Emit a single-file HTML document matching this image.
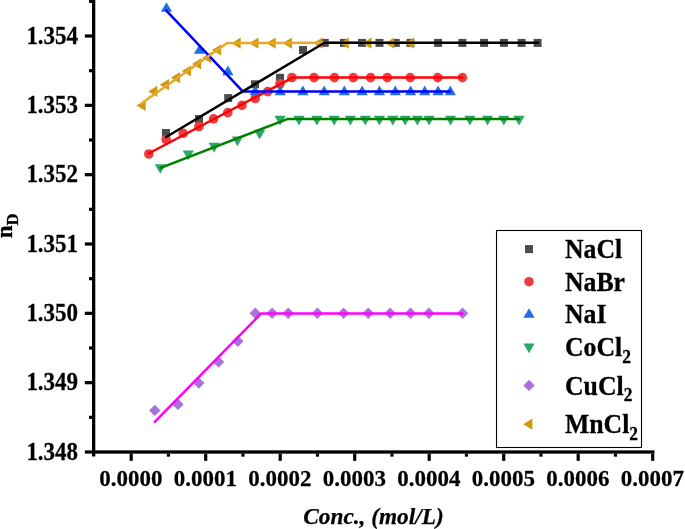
<!DOCTYPE html>
<html><head><meta charset="utf-8"><style>
html,body{margin:0;padding:0;background:#fff;width:685px;height:529px;overflow:hidden;}
svg{display:block;will-change:transform;}
</style></head><body>
<svg width="685" height="529" viewBox="0 0 685 529">
<rect width="685" height="529" fill="#fff"/>
<rect x="162.00" y="129.00" width="8.0" height="8.0" fill="#4b4b4b"/>
<rect x="195.00" y="115.00" width="8.0" height="8.0" fill="#4b4b4b"/>
<rect x="224.20" y="94.10" width="8.0" height="8.0" fill="#4b4b4b"/>
<rect x="251.00" y="80.30" width="8.0" height="8.0" fill="#4b4b4b"/>
<rect x="276.00" y="73.80" width="8.0" height="8.0" fill="#4b4b4b"/>
<rect x="299.00" y="46.00" width="8.0" height="8.0" fill="#4b4b4b"/>
<rect x="320.70" y="38.90" width="8.0" height="8.0" fill="#4b4b4b"/>
<rect x="340.00" y="38.90" width="8.0" height="8.0" fill="#4b4b4b"/>
<rect x="358.00" y="38.90" width="8.0" height="8.0" fill="#4b4b4b"/>
<rect x="375.50" y="38.90" width="8.0" height="8.0" fill="#4b4b4b"/>
<rect x="391.80" y="38.90" width="8.0" height="8.0" fill="#4b4b4b"/>
<rect x="406.50" y="38.90" width="8.0" height="8.0" fill="#4b4b4b"/>
<rect x="434.10" y="38.90" width="8.0" height="8.0" fill="#4b4b4b"/>
<rect x="458.40" y="38.90" width="8.0" height="8.0" fill="#4b4b4b"/>
<rect x="480.10" y="38.90" width="8.0" height="8.0" fill="#4b4b4b"/>
<rect x="499.90" y="38.90" width="8.0" height="8.0" fill="#4b4b4b"/>
<rect x="517.60" y="38.90" width="8.0" height="8.0" fill="#4b4b4b"/>
<rect x="533.60" y="38.90" width="8.0" height="8.0" fill="#4b4b4b"/>
<circle cx="148.80" cy="154.00" r="4.8" fill="#ee3d42"/>
<circle cx="166.20" cy="139.70" r="4.8" fill="#ee3d42"/>
<circle cx="183.20" cy="133.30" r="4.8" fill="#ee3d42"/>
<circle cx="198.90" cy="126.50" r="4.8" fill="#ee3d42"/>
<circle cx="213.60" cy="118.90" r="4.8" fill="#ee3d42"/>
<circle cx="227.80" cy="112.60" r="4.8" fill="#ee3d42"/>
<circle cx="241.90" cy="105.40" r="4.8" fill="#ee3d42"/>
<circle cx="255.30" cy="98.50" r="4.8" fill="#ee3d42"/>
<circle cx="267.70" cy="91.60" r="4.8" fill="#ee3d42"/>
<circle cx="280.00" cy="83.75" r="4.8" fill="#ee3d42"/>
<circle cx="291.90" cy="77.50" r="4.8" fill="#ee3d42"/>
<circle cx="314.00" cy="77.60" r="4.8" fill="#ee3d42"/>
<circle cx="334.40" cy="77.60" r="4.8" fill="#ee3d42"/>
<circle cx="353.30" cy="77.60" r="4.8" fill="#ee3d42"/>
<circle cx="370.60" cy="77.60" r="4.8" fill="#ee3d42"/>
<circle cx="387.30" cy="77.60" r="4.8" fill="#ee3d42"/>
<circle cx="410.20" cy="77.60" r="4.8" fill="#ee3d42"/>
<circle cx="437.80" cy="77.60" r="4.8" fill="#ee3d42"/>
<circle cx="462.40" cy="77.60" r="4.8" fill="#ee3d42"/>
<path d="M166.50 2.15L172.10 11.85L160.90 11.85Z" fill="#1f6fe0"/>
<path d="M199.50 44.15L205.10 53.85L193.90 53.85Z" fill="#1f6fe0"/>
<path d="M227.90 65.45L233.50 75.15L222.30 75.15Z" fill="#1f6fe0"/>
<path d="M255.30 85.45L260.90 95.15L249.70 95.15Z" fill="#1f6fe0"/>
<path d="M280.20 85.55L285.80 95.25L274.60 95.25Z" fill="#1f6fe0"/>
<path d="M302.90 85.55L308.50 95.25L297.30 95.25Z" fill="#1f6fe0"/>
<path d="M324.20 85.55L329.80 95.25L318.60 95.25Z" fill="#1f6fe0"/>
<path d="M344.30 85.55L349.90 95.25L338.70 95.25Z" fill="#1f6fe0"/>
<path d="M362.10 85.55L367.70 95.25L356.50 95.25Z" fill="#1f6fe0"/>
<path d="M379.40 85.55L385.00 95.25L373.80 95.25Z" fill="#1f6fe0"/>
<path d="M395.30 85.55L400.90 95.25L389.70 95.25Z" fill="#1f6fe0"/>
<path d="M410.60 85.55L416.20 95.25L405.00 95.25Z" fill="#1f6fe0"/>
<path d="M424.70 85.55L430.30 95.25L419.10 95.25Z" fill="#1f6fe0"/>
<path d="M438.10 85.55L443.70 95.25L432.50 95.25Z" fill="#1f6fe0"/>
<path d="M450.30 85.55L455.90 95.25L444.70 95.25Z" fill="#1f6fe0"/>
<path d="M154.70 164.15L165.90 164.15L160.30 173.85Z" fill="#2aa865"/>
<path d="M182.70 150.55L193.90 150.55L188.30 160.25Z" fill="#2aa865"/>
<path d="M208.60 142.75L219.80 142.75L214.20 152.45Z" fill="#2aa865"/>
<path d="M231.80 136.55L243.00 136.55L237.40 146.25Z" fill="#2aa865"/>
<path d="M254.00 129.75L265.20 129.75L259.60 139.45Z" fill="#2aa865"/>
<path d="M274.50 115.85L285.70 115.85L280.10 125.55Z" fill="#2aa865"/>
<path d="M293.40 115.85L304.60 115.85L299.00 125.55Z" fill="#2aa865"/>
<path d="M311.30 115.85L322.50 115.85L316.90 125.55Z" fill="#2aa865"/>
<path d="M328.60 115.85L339.80 115.85L334.20 125.55Z" fill="#2aa865"/>
<path d="M344.80 115.85L356.00 115.85L350.40 125.55Z" fill="#2aa865"/>
<path d="M359.70 115.85L370.90 115.85L365.30 125.55Z" fill="#2aa865"/>
<path d="M373.80 115.85L385.00 115.85L379.40 125.55Z" fill="#2aa865"/>
<path d="M387.20 115.85L398.40 115.85L392.80 125.55Z" fill="#2aa865"/>
<path d="M399.60 115.85L410.80 115.85L405.20 125.55Z" fill="#2aa865"/>
<path d="M411.80 115.85L423.00 115.85L417.40 125.55Z" fill="#2aa865"/>
<path d="M423.50 115.85L434.70 115.85L429.10 125.55Z" fill="#2aa865"/>
<path d="M444.90 115.85L456.10 115.85L450.50 125.55Z" fill="#2aa865"/>
<path d="M464.30 115.85L475.50 115.85L469.90 125.55Z" fill="#2aa865"/>
<path d="M481.90 115.85L493.10 115.85L487.50 125.55Z" fill="#2aa865"/>
<path d="M498.20 115.85L509.40 115.85L503.80 125.55Z" fill="#2aa865"/>
<path d="M513.40 115.85L524.60 115.85L519.00 125.55Z" fill="#2aa865"/>
<path d="M154.80 404.70L160.50 410.40L154.80 416.10L149.10 410.40Z" fill="#a872dc"/>
<path d="M178.00 398.70L183.70 404.40L178.00 410.10L172.30 404.40Z" fill="#a872dc"/>
<path d="M198.80 377.40L204.50 383.10L198.80 388.80L193.10 383.10Z" fill="#a872dc"/>
<path d="M218.60 356.20L224.30 361.90L218.60 367.60L212.90 361.90Z" fill="#a872dc"/>
<path d="M237.80 335.60L243.50 341.30L237.80 347.00L232.10 341.30Z" fill="#a872dc"/>
<path d="M255.30 307.60L261.00 313.30L255.30 319.00L249.60 313.30Z" fill="#a872dc"/>
<path d="M272.10 307.60L277.80 313.30L272.10 319.00L266.40 313.30Z" fill="#a872dc"/>
<path d="M288.20 307.60L293.90 313.30L288.20 319.00L282.50 313.30Z" fill="#a872dc"/>
<path d="M317.40 307.60L323.10 313.30L317.40 319.00L311.70 313.30Z" fill="#a872dc"/>
<path d="M343.60 307.60L349.30 313.30L343.60 319.00L337.90 313.30Z" fill="#a872dc"/>
<path d="M368.20 307.60L373.90 313.30L368.20 319.00L362.50 313.30Z" fill="#a872dc"/>
<path d="M390.10 307.60L395.80 313.30L390.10 319.00L384.40 313.30Z" fill="#a872dc"/>
<path d="M410.50 307.60L416.20 313.30L410.50 319.00L404.80 313.30Z" fill="#a872dc"/>
<path d="M428.90 307.60L434.60 313.30L428.90 319.00L423.20 313.30Z" fill="#a872dc"/>
<path d="M462.50 307.60L468.20 313.30L462.50 319.00L456.80 313.30Z" fill="#a872dc"/>
<path d="M136.50 105.50L145.70 99.90L145.70 111.10Z" fill="#cf9a10"/>
<path d="M148.20 91.40L157.40 85.80L157.40 97.00Z" fill="#cf9a10"/>
<path d="M159.80 84.70L169.00 79.10L169.00 90.30Z" fill="#cf9a10"/>
<path d="M170.90 77.70L180.10 72.10L180.10 83.30Z" fill="#cf9a10"/>
<path d="M181.80 71.00L191.00 65.40L191.00 76.60Z" fill="#cf9a10"/>
<path d="M192.00 63.90L201.20 58.30L201.20 69.50Z" fill="#cf9a10"/>
<path d="M202.20 57.70L211.40 52.10L211.40 63.30Z" fill="#cf9a10"/>
<path d="M211.90 50.00L221.10 44.40L221.10 55.60Z" fill="#cf9a10"/>
<path d="M231.50 43.20L240.70 37.60L240.70 48.80Z" fill="#cf9a10"/>
<path d="M249.30 43.20L258.50 37.60L258.50 48.80Z" fill="#cf9a10"/>
<path d="M266.50 43.20L275.70 37.60L275.70 48.80Z" fill="#cf9a10"/>
<path d="M282.70 43.20L291.90 37.60L291.90 48.80Z" fill="#cf9a10"/>
<path d="M313.30 43.20L322.50 37.60L322.50 48.80Z" fill="#cf9a10"/>
<path d="M339.60 43.20L348.80 37.60L348.80 48.80Z" fill="#cf9a10"/>
<path d="M362.30 43.20L371.50 37.60L371.50 48.80Z" fill="#cf9a10"/>
<path d="M385.20 43.20L394.40 37.60L394.40 48.80Z" fill="#cf9a10"/>
<path d="M404.80 43.20L414.00 37.60L414.00 48.80Z" fill="#cf9a10"/>
<path d="M148.60 153.50L292.70 77.60L462.40 77.60" fill="none" stroke="#ff0000" stroke-width="2.5" stroke-linejoin="round" stroke-linecap="round"/>
<path d="M166.10 10.40L243.00 91.60L450.00 91.60" fill="none" stroke="#0000ff" stroke-width="2.5" stroke-linejoin="round" stroke-linecap="round"/>
<path d="M160.60 167.80L287.20 119.10L519.00 119.10" fill="none" stroke="#008000" stroke-width="2.5" stroke-linejoin="round" stroke-linecap="round"/>
<path d="M154.80 421.80L261.30 313.40L462.50 313.40" fill="none" stroke="#ff00ff" stroke-width="2.5" stroke-linejoin="round" stroke-linecap="round"/>
<path d="M142.00 103.00L227.30 43.00L410.20 42.50" fill="none" stroke="#e6a82a" stroke-width="2.5" stroke-linejoin="round" stroke-linecap="round"/>
<path d="M166.20 137.00L324.50 42.80L538.00 42.80" fill="none" stroke="#000000" stroke-width="2.5" stroke-linejoin="round" stroke-linecap="round"/>
<rect x="92.0" y="0" width="3.3" height="456.5" fill="#000"/>
<rect x="92.0" y="450.35" width="562.5" height="3.3" fill="#000"/>
<rect x="84.8" y="450.40" width="7.2" height="3.2" fill="#000"/>
<rect x="89.0" y="415.73" width="3.0" height="3.2" fill="#000"/>
<rect x="84.8" y="381.07" width="7.2" height="3.2" fill="#000"/>
<rect x="89.0" y="346.40" width="3.0" height="3.2" fill="#000"/>
<rect x="84.8" y="311.74" width="7.2" height="3.2" fill="#000"/>
<rect x="89.0" y="277.07" width="3.0" height="3.2" fill="#000"/>
<rect x="84.8" y="242.41" width="7.2" height="3.2" fill="#000"/>
<rect x="89.0" y="207.75" width="3.0" height="3.2" fill="#000"/>
<rect x="84.8" y="173.08" width="7.2" height="3.2" fill="#000"/>
<rect x="89.0" y="138.41" width="3.0" height="3.2" fill="#000"/>
<rect x="84.8" y="103.75" width="7.2" height="3.2" fill="#000"/>
<rect x="89.0" y="69.09" width="3.0" height="3.2" fill="#000"/>
<rect x="84.8" y="34.42" width="7.2" height="3.2" fill="#000"/>
<rect x="89.0" y="-0.24" width="3.0" height="3.2" fill="#000"/>
<rect x="129.60" y="453.65" width="3.2" height="7.2" fill="#000"/>
<rect x="166.85" y="453.65" width="3.2" height="3.0" fill="#000"/>
<rect x="204.10" y="453.65" width="3.2" height="7.2" fill="#000"/>
<rect x="241.35" y="453.65" width="3.2" height="3.0" fill="#000"/>
<rect x="278.60" y="453.65" width="3.2" height="7.2" fill="#000"/>
<rect x="315.85" y="453.65" width="3.2" height="3.0" fill="#000"/>
<rect x="353.10" y="453.65" width="3.2" height="7.2" fill="#000"/>
<rect x="390.35" y="453.65" width="3.2" height="3.0" fill="#000"/>
<rect x="427.60" y="453.65" width="3.2" height="7.2" fill="#000"/>
<rect x="464.85" y="453.65" width="3.2" height="3.0" fill="#000"/>
<rect x="502.10" y="453.65" width="3.2" height="7.2" fill="#000"/>
<rect x="539.35" y="453.65" width="3.2" height="3.0" fill="#000"/>
<rect x="576.60" y="453.65" width="3.2" height="7.2" fill="#000"/>
<rect x="613.85" y="453.65" width="3.2" height="3.0" fill="#000"/>
<rect x="651.10" y="453.65" width="3.2" height="7.2" fill="#000"/>
<text transform="translate(78.1 459.80) scale(1 1.06)" font-family='"Liberation Serif", serif' font-weight="bold" font-size="23" text-anchor="end" stroke="#000" stroke-width="0.25">1.348</text>
<text transform="translate(78.1 390.47) scale(1 1.06)" font-family='"Liberation Serif", serif' font-weight="bold" font-size="23" text-anchor="end" stroke="#000" stroke-width="0.25">1.349</text>
<text transform="translate(78.1 321.14) scale(1 1.06)" font-family='"Liberation Serif", serif' font-weight="bold" font-size="23" text-anchor="end" stroke="#000" stroke-width="0.25">1.350</text>
<text transform="translate(78.1 251.81) scale(1 1.06)" font-family='"Liberation Serif", serif' font-weight="bold" font-size="23" text-anchor="end" stroke="#000" stroke-width="0.25">1.351</text>
<text transform="translate(78.1 182.48) scale(1 1.06)" font-family='"Liberation Serif", serif' font-weight="bold" font-size="23" text-anchor="end" stroke="#000" stroke-width="0.25">1.352</text>
<text transform="translate(78.1 113.15) scale(1 1.06)" font-family='"Liberation Serif", serif' font-weight="bold" font-size="23" text-anchor="end" stroke="#000" stroke-width="0.25">1.353</text>
<text transform="translate(78.1 43.82) scale(1 1.06)" font-family='"Liberation Serif", serif' font-weight="bold" font-size="23" text-anchor="end" stroke="#000" stroke-width="0.25">1.354</text>
<text transform="translate(130.90 485.6) scale(0.966 1)" font-family='"Liberation Serif", serif' font-weight="bold" font-size="23.8" text-anchor="middle" stroke="#000" stroke-width="0.25">0.0000</text>
<text transform="translate(205.40 485.6) scale(0.966 1)" font-family='"Liberation Serif", serif' font-weight="bold" font-size="23.8" text-anchor="middle" stroke="#000" stroke-width="0.25">0.0001</text>
<text transform="translate(279.90 485.6) scale(0.966 1)" font-family='"Liberation Serif", serif' font-weight="bold" font-size="23.8" text-anchor="middle" stroke="#000" stroke-width="0.25">0.0002</text>
<text transform="translate(354.40 485.6) scale(0.966 1)" font-family='"Liberation Serif", serif' font-weight="bold" font-size="23.8" text-anchor="middle" stroke="#000" stroke-width="0.25">0.0003</text>
<text transform="translate(428.90 485.6) scale(0.966 1)" font-family='"Liberation Serif", serif' font-weight="bold" font-size="23.8" text-anchor="middle" stroke="#000" stroke-width="0.25">0.0004</text>
<text transform="translate(503.40 485.6) scale(0.966 1)" font-family='"Liberation Serif", serif' font-weight="bold" font-size="23.8" text-anchor="middle" stroke="#000" stroke-width="0.25">0.0005</text>
<text transform="translate(577.90 485.6) scale(0.966 1)" font-family='"Liberation Serif", serif' font-weight="bold" font-size="23.8" text-anchor="middle" stroke="#000" stroke-width="0.25">0.0006</text>
<text transform="translate(652.40 485.6) scale(0.966 1)" font-family='"Liberation Serif", serif' font-weight="bold" font-size="23.8" text-anchor="middle" stroke="#000" stroke-width="0.25">0.0007</text>
<text x="373.5" y="524.4" font-family='"Liberation Serif", serif' font-weight="bold" font-style="italic" font-size="23.3" text-anchor="middle" stroke="#000" stroke-width="0.25">Conc., (mol/L)</text>
<g transform="translate(12.3,238.1) rotate(-90)"><text x="0" y="0" font-family='"Liberation Serif", serif' font-weight="bold" font-size="22.5" stroke="#000" stroke-width="0.3">n<tspan font-size="16.6" dy="5.8">D</tspan></text></g>
<rect x="496.5" y="230.5" width="145" height="217" fill="none" stroke="#000" stroke-width="1.1"/>
<rect x="525.00" y="245.10" width="8.0" height="8.0" fill="#4b4b4b"/>
<text transform="translate(565 257.7) scale(0.99 1.045)" font-family='"Liberation Serif", serif' font-weight="bold" font-size="26" stroke="#000" stroke-width="0.3">NaCl</text>
<circle cx="529.00" cy="281.70" r="4.8" fill="#ee3d42"/>
<text transform="translate(565 290.5) scale(0.99 1.045)" font-family='"Liberation Serif", serif' font-weight="bold" font-size="26" stroke="#000" stroke-width="0.3">NaBr</text>
<path d="M529.00 308.15L534.60 317.85L523.40 317.85Z" fill="#1f6fe0"/>
<text transform="translate(565 323.0) scale(0.99 1.045)" font-family='"Liberation Serif", serif' font-weight="bold" font-size="26" stroke="#000" stroke-width="0.3">NaI</text>
<path d="M523.40 343.45L534.60 343.45L529.00 353.15Z" fill="#2aa865"/>
<text transform="translate(565 355.8) scale(0.99 1.045)" font-family='"Liberation Serif", serif' font-weight="bold" font-size="26" stroke="#000" stroke-width="0.3">CoCl<tspan font-size="17.6" dy="6.6">2</tspan></text>
<path d="M529.00 379.70L534.70 385.40L529.00 391.10L523.30 385.40Z" fill="#a872dc"/>
<text transform="translate(565 394.6) scale(0.99 1.045)" font-family='"Liberation Serif", serif' font-weight="bold" font-size="26" stroke="#000" stroke-width="0.3">CuCl<tspan font-size="17.6" dy="6.6">2</tspan></text>
<path d="M523.20 424.20L532.40 418.60L532.40 429.80Z" fill="#cf9a10"/>
<text transform="translate(565 433.2) scale(0.99 1.045)" font-family='"Liberation Serif", serif' font-weight="bold" font-size="26" stroke="#000" stroke-width="0.3">MnCl<tspan font-size="17.6" dy="6.6">2</tspan></text>
</svg>
</body></html>
